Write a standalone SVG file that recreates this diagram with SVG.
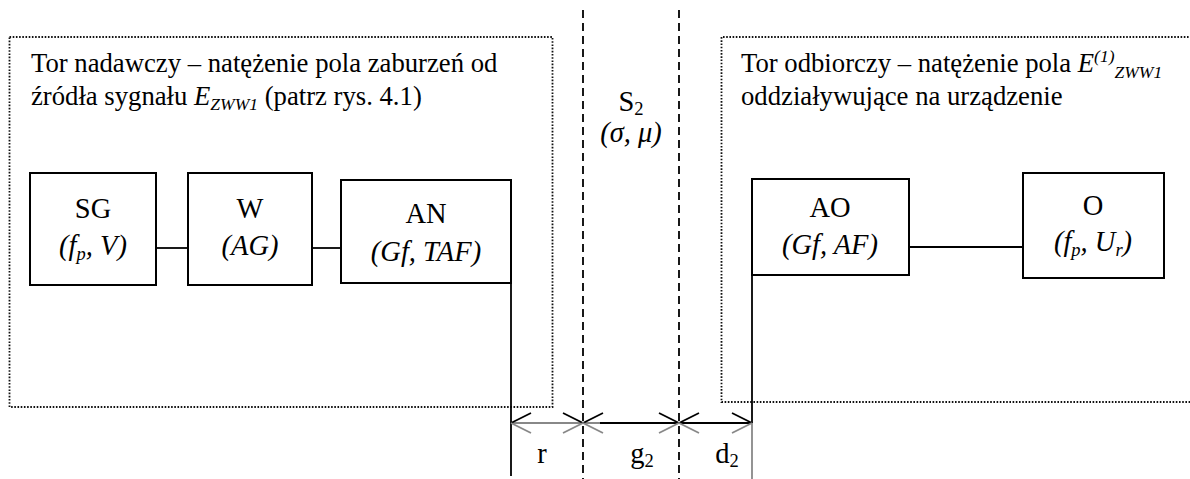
<svg xmlns="http://www.w3.org/2000/svg" width="1190" height="479" viewBox="0 0 1190 479">
<style>
text{font-family:"Liberation Serif","Times New Roman",serif;font-size:26.7px;fill:#000}
.b{font-size:28.5px}
.i{font-style:italic}
.c{text-anchor:middle}
.box{fill:#fff;stroke:#000;stroke-width:2}
.dot{fill:none;stroke:#111;stroke-width:1.8;stroke-dasharray:1.6 1.6}
.dash{fill:none;stroke:#000;stroke-width:1.8;stroke-dasharray:8 5}
.ln{stroke:#000;stroke-width:1.8;fill:none}
.gr{stroke:#888;stroke-width:1.8;fill:none}
</style>
<rect width="1190" height="479" fill="#fff"/>
<g id="zones">
<rect class="dot" x="9.5" y="37" width="543" height="370"/>
<path class="dot" d="M1195 37 H721.5 V402 H1195"/>
<line class="dash" x1="583" y1="10" x2="583" y2="479"/>
<line class="dash" x1="679" y1="10" x2="679" y2="479"/>
</g>
<g id="label-tx">
<text x="31" y="72">Tor nadawczy – natężenie pola zaburzeń od</text>
<text x="31" y="105">źródła sygnału <tspan class="i">E</tspan><tspan class="i" font-size="17.5" dy="5">ZWW1</tspan><tspan dy="-5"> (patrz rys. 4.1)</tspan></text>
</g>
<g id="label-rx">
<text x="741" y="72">Tor odbiorczy – natężenie pola <tspan class="i">E</tspan><tspan class="i" font-size="17.5" dy="-10">(1)</tspan><tspan class="i" font-size="17.5" dy="16">ZWW1</tspan></text>
<text x="741" y="105">oddziaływujące na urządzenie</text>
</g>
<g id="S2">
<text class="c b" x="631" y="111">S<tspan font-size="18.5" dy="4">2</tspan></text>
<text class="c i b" x="631" y="142">(σ, μ)</text>
</g>
<g id="connectors">
<line class="ln" x1="156" y1="248" x2="188" y2="248"/>
<line class="ln" x1="312" y1="248" x2="341" y2="248"/>
<line class="ln" x1="909" y1="247" x2="1023" y2="247"/>
<line class="ln" x1="511" y1="222" x2="511" y2="476"/>
<line class="ln" x1="752" y1="228" x2="752" y2="423"/>
<line class="gr" x1="752" y1="423" x2="752" y2="479"/>
<line class="gr" x1="511" y1="423" x2="600" y2="423"/>
<line class="ln" x1="600" y1="423" x2="752" y2="423"/>
<path class="ln" d="M531 413 L511 423 M563 413 L583 423 L603 413 M659 413 L679 423 L699 413 M732 413 L752 423"/>
<path class="gr" d="M531 433 L511 423 M563 433 L583 423 L603 433 M659 433 L679 423 L699 433 M732 433 L752 423"/>
</g>
<g id="dims">
<text class="c b" x="542" y="463">r</text>
<text class="c b" x="642" y="463">g<tspan font-size="18.5" dy="4">2</tspan></text>
<text class="c b" x="727" y="463">d<tspan font-size="18.5" dy="4">2</tspan></text>
</g>
<g id="SG">
<rect class="box" x="30" y="173" width="126" height="112"/>
<text class="c b" x="93" y="218">SG</text>
<text class="c i b" x="93" y="255">(f<tspan font-size="18.5" dy="5">p</tspan><tspan dy="-5">, V)</tspan></text>
</g>
<g id="W">
<rect class="box" x="188" y="173" width="124" height="112"/>
<text class="c b" x="250" y="218">W</text>
<text class="c i b" x="250" y="255">(AG)</text>
</g>
<g id="AN">
<rect class="box" x="341" y="180" width="170" height="103"/>
<text class="c b" x="426" y="223">AN</text>
<text class="c i b" x="426" y="261">(Gf, TAF)</text>
</g>
<g id="AO">
<rect class="box" x="752" y="179" width="157" height="96"/>
<text class="c b" x="830" y="217">AO</text>
<text class="c i b" x="830" y="254">(Gf, AF)</text>
</g>
<g id="O">
<rect class="box" x="1023" y="173" width="141" height="105"/>
<text class="c b" x="1093" y="215">O</text>
<text class="c i b" x="1093" y="251">(f<tspan font-size="18.5" dy="5">p</tspan><tspan dy="-5">, U</tspan><tspan font-size="18.5" dy="5">r</tspan><tspan dy="-5">)</tspan></text>
</g>
<line class="ln" x1="511" y1="180" x2="511" y2="283"/>
</svg>
